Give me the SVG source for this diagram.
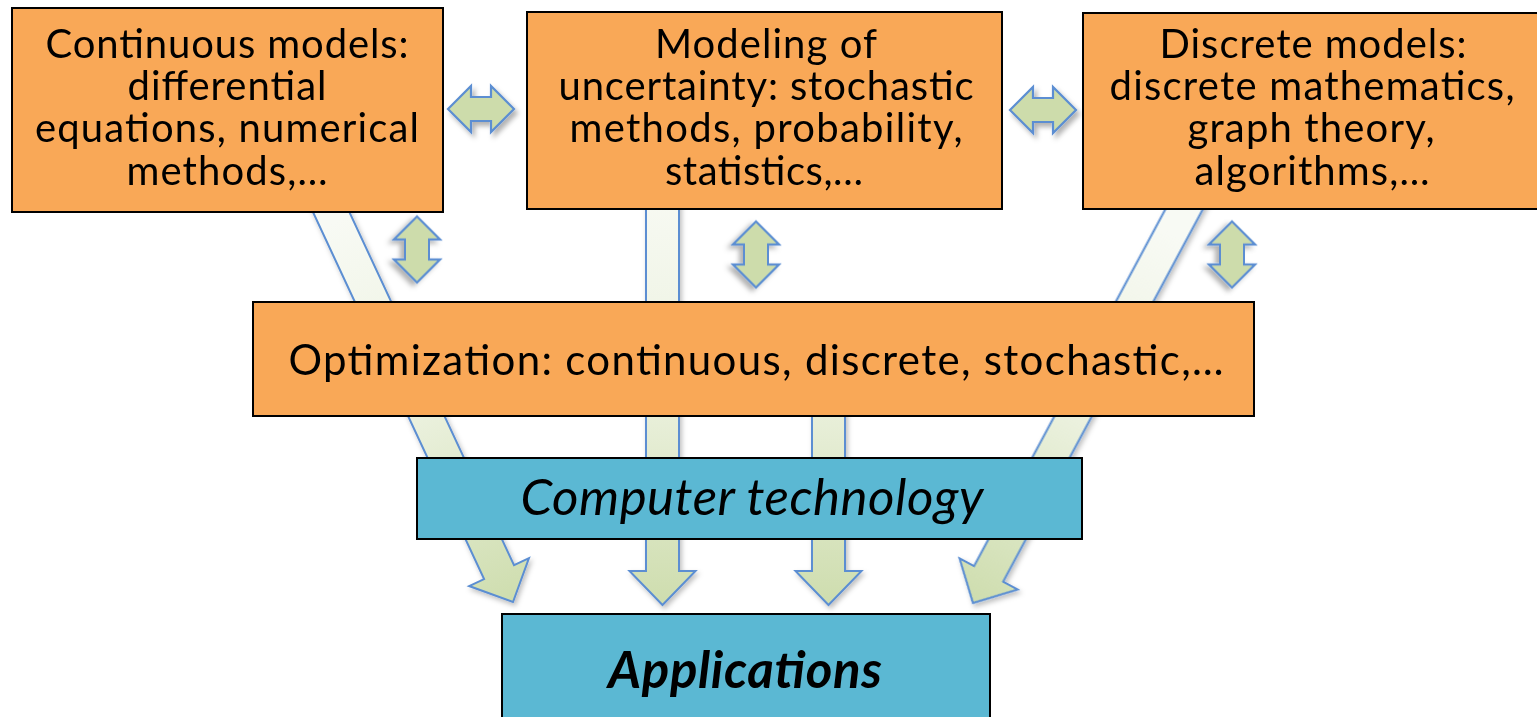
<svg xmlns="http://www.w3.org/2000/svg" width="1537" height="717" viewBox="0 0 1537 717">
<defs>
<style>
.box{stroke:#000;stroke-width:2}
.org{fill:#F9A857}
.blu{fill:#5BB8D3}
.t{font-family:Lato,"Liberation Sans",sans-serif;font-size:40px;fill:#000;text-anchor:middle}
.opt{font-size:42px}
.ct{font-size:51px;font-style:italic}
.ap{font-size:51px;font-style:italic;font-weight:bold}
.big{fill:url(#ag);stroke:#5B8ED2;stroke-width:2;stroke-linejoin:miter}
.dbl{fill:#CDDCAB;stroke:#5B8ED2;stroke-width:2.2;filter:url(#sh)}
</style>
<linearGradient id="ag" gradientUnits="userSpaceOnUse" x1="0" y1="-420" x2="0" y2="0">
<stop offset="0" stop-color="#F8FAF4"/>
<stop offset="0.5" stop-color="#EBF1DE"/>
<stop offset="1" stop-color="#CEDDAE"/>
</linearGradient>
<filter id="sh" x="-30%" y="-30%" width="160%" height="160%">
<feDropShadow dx="3" dy="4" stdDeviation="2.5" flood-color="#000" flood-opacity="0.3"/>
</filter>
<filter id="sh2" x="-30%" y="-30%" width="160%" height="160%">
<feDropShadow dx="2" dy="3" stdDeviation="2.5" flood-color="#000" flood-opacity="0.25"/>
</filter>
<polygon id="dh" points="-33,0 -10,-23 -10,-12 10,-12 10,-23 33,0 10,23 10,12 -10,12 -10,23"/>
</defs>
<rect width="1537" height="717" fill="#fff"/>

<g id="connectors">
<g filter="url(#sh2)">
<polygon class="big" transform="translate(513,602) rotate(-25)" points="0,0 33,-33 16.5,-33 16.5,-470 -16.5,-470 -16.5,-33 -33,-33"/>
<polygon class="big" transform="translate(662.5,605)" points="0,0 33,-34 16.5,-34 16.5,-450 -16.5,-450 -16.5,-34 -33,-34"/>
<polygon class="big" transform="translate(828.5,605)" points="0,0 33,-34 16.5,-34 16.5,-260 -16.5,-260 -16.5,-34 -33,-34"/>
<polygon class="big" transform="translate(973,603) rotate(28.2)" points="0,0 33,-33 16.5,-33 16.5,-480 -16.5,-480 -16.5,-33 -33,-33"/>
</g>
<use href="#dh" class="dbl" transform="translate(481,109)"/>
<use href="#dh" class="dbl" transform="translate(1043,110)"/>
<use href="#dh" class="dbl" transform="translate(417,249.5) rotate(90)"/>
<use href="#dh" class="dbl" transform="translate(756,254.5) rotate(90)"/>
<use href="#dh" class="dbl" transform="translate(1232,254.5) rotate(90)"/>
</g>

<g id="continuous">
<rect class="box org" x="12" y="8" width="431" height="204"/>
<text class="t" x="227" y="58" textLength="363">Continuous models:</text>
<text class="t" x="227" y="100" textLength="199">differential</text>
<text class="t" x="227" y="142" textLength="384">equations, numerical</text>
<text class="t" x="227" y="185" textLength="201">methods,…</text>
</g>

<g id="uncertainty">
<rect class="box org" x="527" y="12" width="475" height="197"/>
<text class="t" x="766" y="58" textLength="222">Modeling of</text>
<text class="t" x="766" y="100" textLength="415">uncertainty: stochastic</text>
<text class="t" x="766" y="142" textLength="393">methods, probability,</text>
<text class="t" x="764" y="185" textLength="198">statistics,…</text>
</g>

<g id="discrete">
<rect class="box org" x="1083" y="13" width="460" height="196"/>
<text class="t" x="1313" y="58" textLength="307">Discrete models:</text>
<text class="t" x="1312" y="100" textLength="405">discrete mathematics,</text>
<text class="t" x="1311" y="142" textLength="247">graph theory,</text>
<text class="t" x="1312" y="185" textLength="235">algorithms,…</text>
</g>

<g id="optimization">
<rect class="box org" x="253" y="302" width="1001" height="114"/>
<text class="t opt" x="756" y="375" textLength="935">Optimization: continuous, discrete, stochastic,…</text>
</g>

<g id="computer">
<rect class="box blu" x="417" y="458" width="665" height="81"/>
<text class="t ct" x="752" y="515" textLength="463">Computer technology</text>
</g>

<g id="applications">
<rect class="box blu" x="502" y="614" width="488" height="110"/>
<text class="t ap" x="745" y="688" textLength="274">Applications</text>
</g>
</svg>
